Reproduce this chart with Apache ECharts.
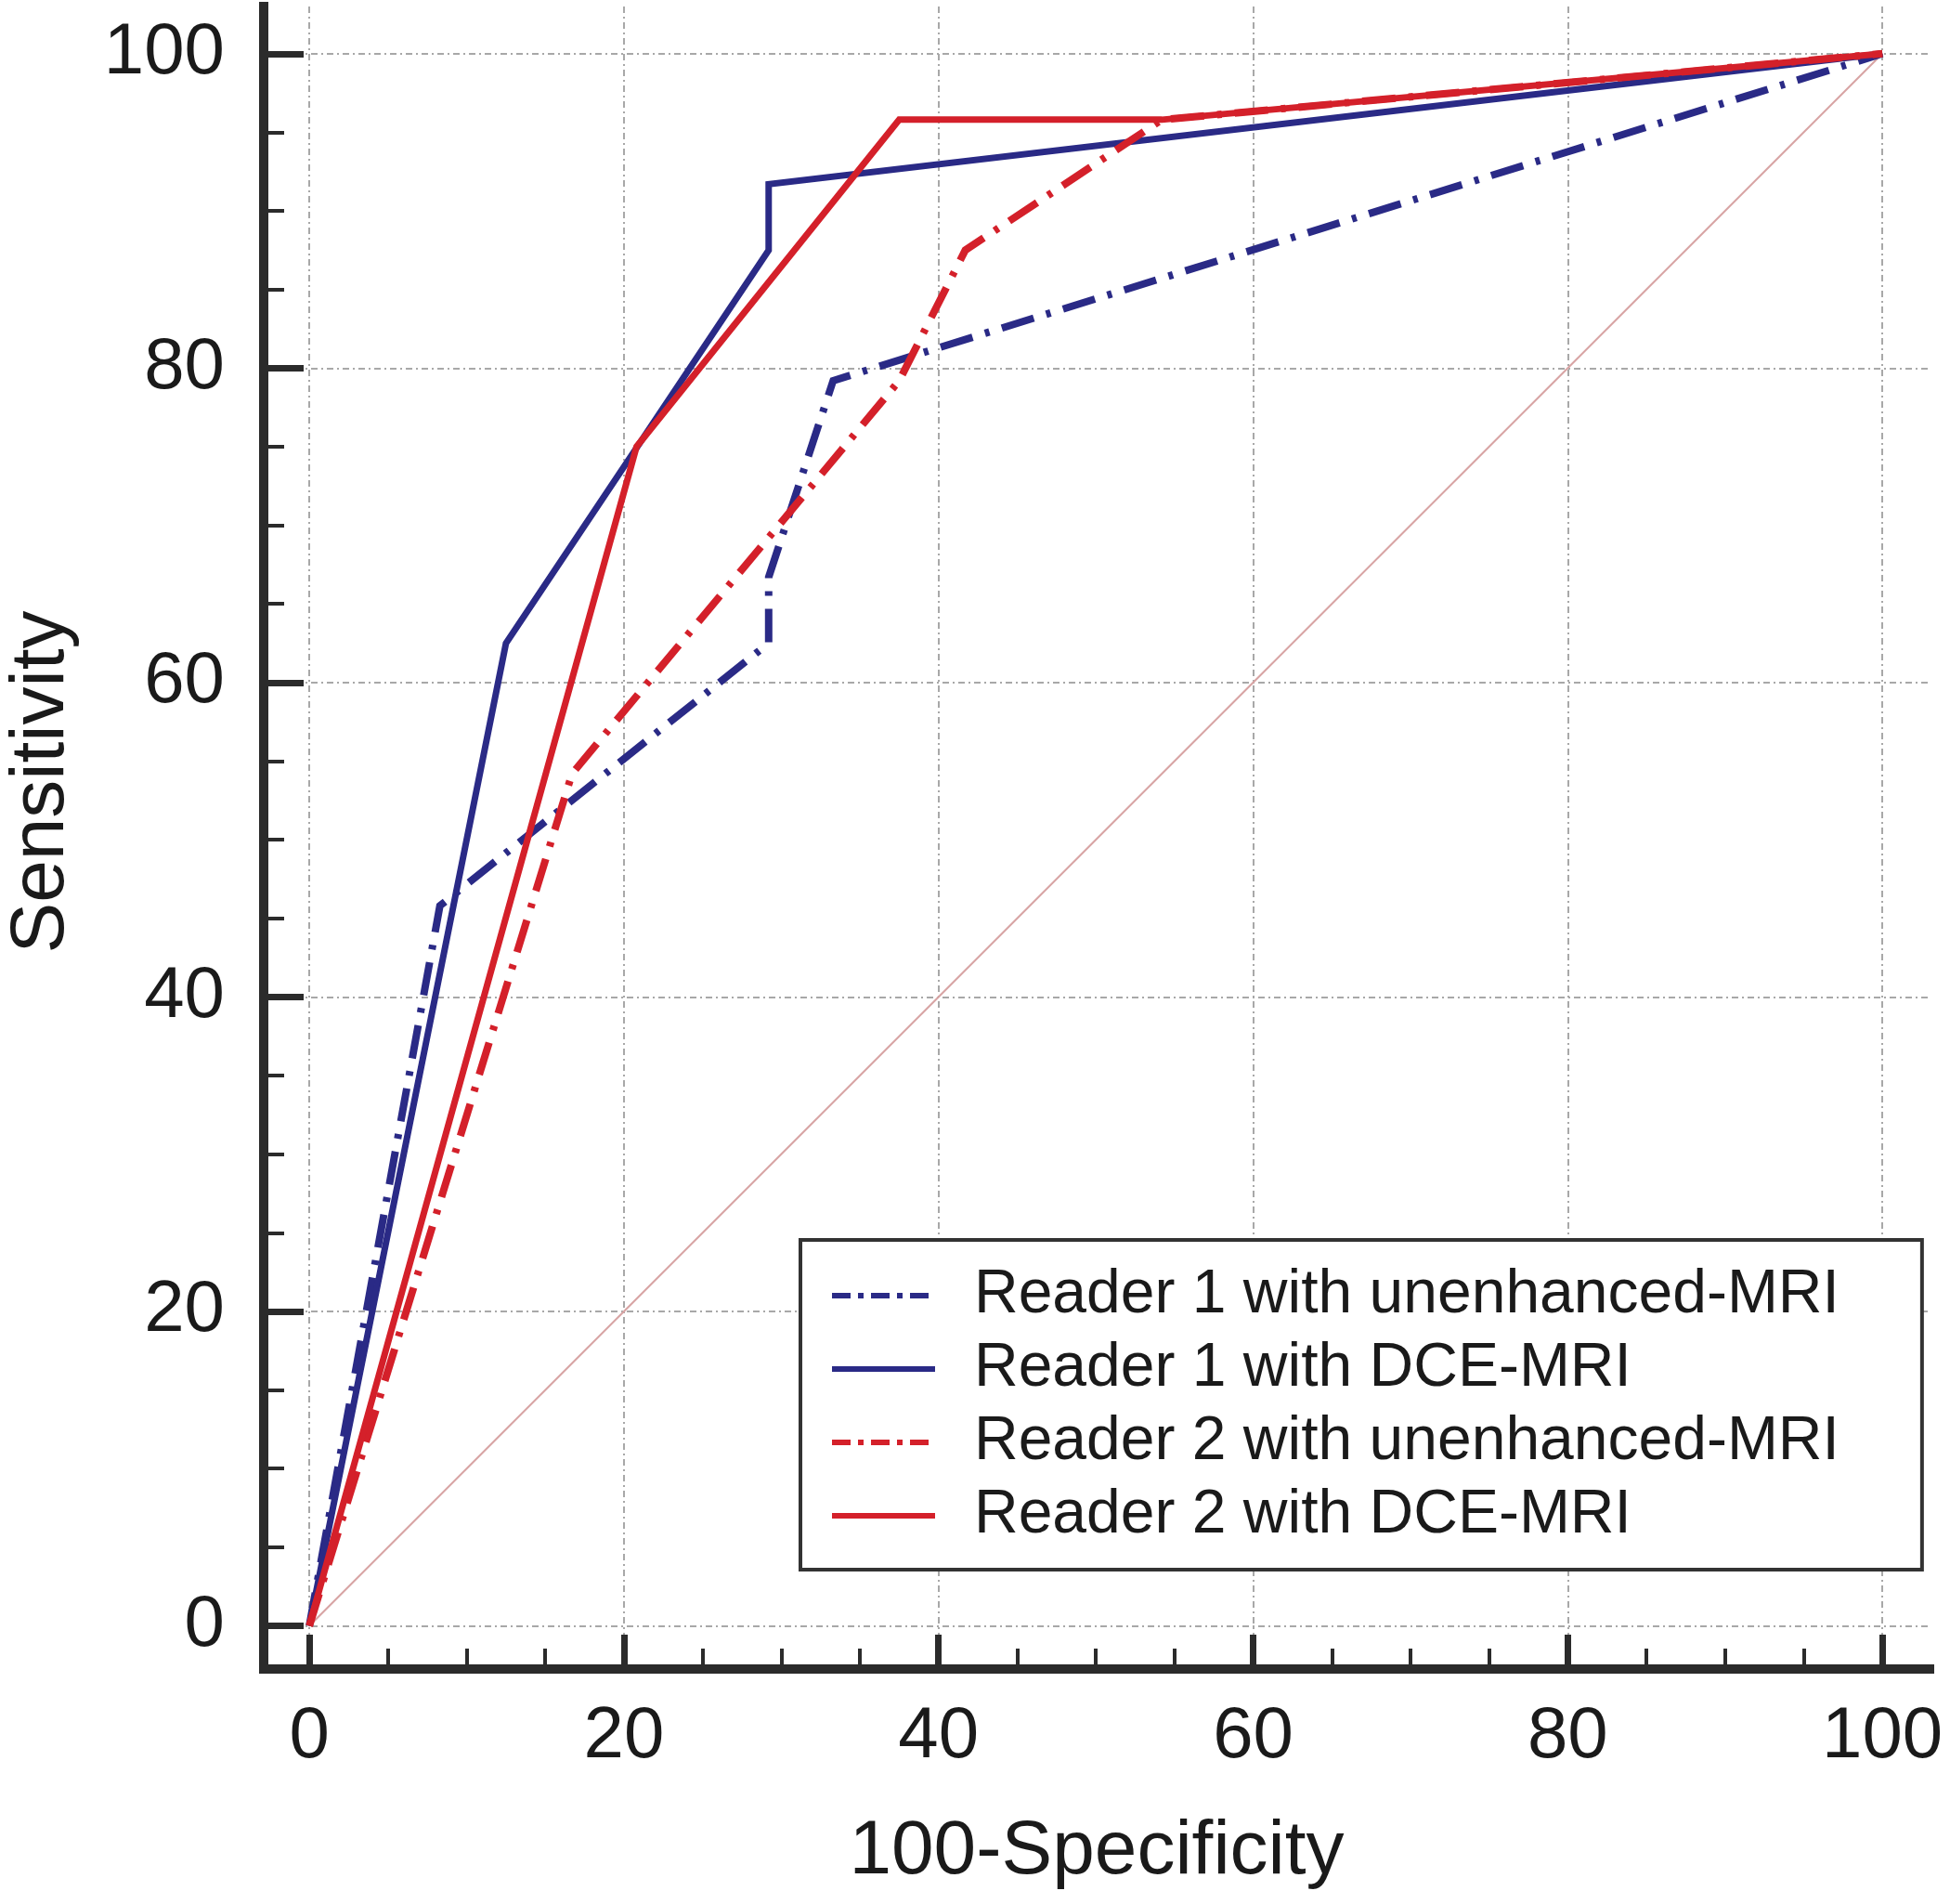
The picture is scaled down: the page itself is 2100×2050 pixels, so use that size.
<!DOCTYPE html>
<html><head><meta charset="utf-8">
<script src="https://cdn.jsdelivr.net/npm/echarts@6/dist/echarts.min.js"></script>
<style>html,body{margin:0;padding:0;background:#fff}#c{width:2100px;height:2050px}</style>
</head><body><div id="c"></div>
<script>
// ---- data ----
const seriesNames = ['Reader 1 with unenhanced-MRI', 'Reader 1 with DCE-MRI', 'Reader 2 with unenhanced-MRI', 'Reader 2 with DCE-MRI'];
const r1Unenhanced = [[0, 0], [8.3, 45.8], [29.2, 62.5], [29.2, 66.7], [33.3, 79.2], [100, 100]];
const r1DCE = [[0, 0], [12.5, 62.5], [29.2, 87.5], [29.2, 91.7], [100, 100]];
const r2Unenhanced = [[0, 0], [16.7, 54.2], [37.5, 79.2], [41.7, 87.5], [54.2, 95.8], [100, 100]];
const r2DCE = [[0, 0], [20.8, 75], [37.5, 95.8], [54.2, 95.8], [100, 100]];
const diagonal = [[0, 0], [100, 100]];
const majorTicks = [0, 20, 40, 60, 80, 100];
const minorTicks = [5, 10, 15, 25, 30, 35, 45, 50, 55, 65, 70, 75, 85, 90, 95];
const xTitle = '100-Specificity';
const yTitle = 'Sensitivity';

// ---- styles ----
const FONT = 'Liberation Sans';
const AX = '#2b2b2b';
const BLUE = '#2a2a86';
const RED = '#d4202a';
const DASHDOT = [36, 14, 5, 14];
const LEGEND_DASHDOT = [20, 8, 6, 8];
const gridLine = { show: true, lineStyle: { color: '#a8a8a8', width: 2, type: [7, 4, 2, 4] } };

function majorAxis(isX) {
  return {
    type: 'value', gridIndex: 0,
    position: isX ? 'bottom' : 'left',
    min: isX ? -2.9 : -2.75, max: 103,
    axisLine: { show: true, onZero: false, lineStyle: { color: AX, width: 10, cap: 'square' } },
    axisTick: { show: true, inside: true, length: isX ? 37 : 43, customValues: majorTicks, lineStyle: { color: AX, width: 7 } },
    axisLabel: { show: true, customValues: majorTicks, margin: isX ? 34 : 42, fontSize: 78, fontFamily: FONT, color: '#1a1a1a' },
    splitLine: gridLine,
    name: isX ? xTitle : yTitle,
    nameLocation: 'middle',
    nameGap: isX ? 156 : 198,
    nameTextStyle: isX ? { fontSize: 82, fontFamily: FONT, color: '#1a1a1a' }
                       : { fontSize: 82, fontFamily: FONT, color: '#1a1a1a', padding: [0, 0, 0, 120] }
  };
}
function minorAxis(isX) {
  return {
    type: 'value', gridIndex: 0,
    position: isX ? 'bottom' : 'left',
    min: isX ? -2.9 : -2.75, max: 103,
    axisLine: { show: false, onZero: false },
    axisTick: { show: true, inside: true, length: 22, customValues: minorTicks, lineStyle: { color: AX, width: 4 } },
    axisLabel: { show: false },
    splitLine: { show: false }
  };
}
function lineSeries(name, data, color, dashed) {
  return {
    name: name, type: 'line', data: data, xAxisIndex: 0, yAxisIndex: 0,
    symbol: 'none', showSymbol: false, smooth: false,
    lineStyle: { color: color, width: dashed ? 8 : 7, type: dashed ? DASHDOT : 'solid', join: 'miter' },
    itemStyle: { color: color }
  };
}
function legendItem(name, dashed) {
  return { name: name, lineStyle: { width: 6, type: dashed ? LEGEND_DASHDOT : 'solid' } };
}

const chart = echarts.init(document.getElementById('c'), null, { renderer: 'canvas' });
chart.setOption({
  animation: false,
  backgroundColor: '#ffffff',
  grid: { left: 284, top: 7, width: 1794, height: 1790, outerBoundsMode: 'none', containLabel: false },
  xAxis: [majorAxis(true), minorAxis(true)],
  yAxis: [majorAxis(false), minorAxis(false)],
  legend: {
    show: true, orient: 'vertical', left: 862, top: 1335,
    data: [legendItem(seriesNames[0], true), legendItem(seriesNames[1], false),
           legendItem(seriesNames[2], true), legendItem(seriesNames[3], false)],
    backgroundColor: '#ffffff', borderColor: '#333333', borderWidth: 4,
    padding: [27, 89, 25, 31],
    itemWidth: 111, itemHeight: 20, itemGap: 13,
    itemStyle: { opacity: 0 },
    lineStyle: { width: 6 },
    textStyle: { fontSize: 66, fontFamily: FONT, color: '#1a1a1a', padding: [0, 0, 0, 37] }
  },
  series: [
    { name: 'ref', type: 'line', data: diagonal, symbol: 'none', silent: true,
      lineStyle: { color: '#d8a4a4', width: 2 }, z: 1 },
    lineSeries(seriesNames[0], r1Unenhanced, BLUE, true),
    lineSeries(seriesNames[1], r1DCE, BLUE, false),
    lineSeries(seriesNames[2], r2Unenhanced, RED, true),
    lineSeries(seriesNames[3], r2DCE, RED, false)
  ]
});
</script>
</body></html>
